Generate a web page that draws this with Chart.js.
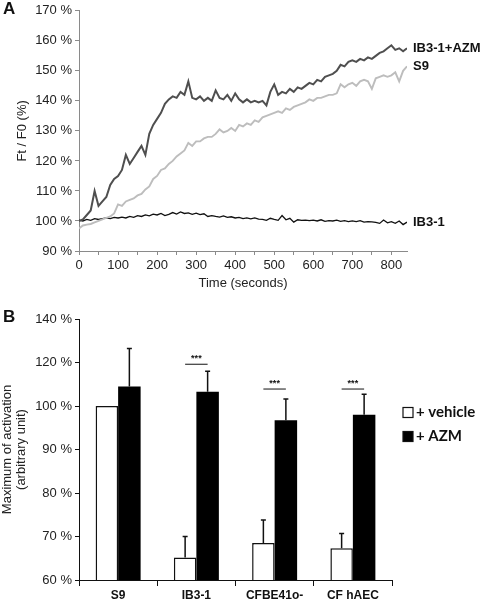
<!DOCTYPE html>
<html>
<head>
<meta charset="utf-8">
<script src="https://cdn.jsdelivr.net/npm/chart.js@4.4.1/dist/chart.umd.min.js"></script>
<style>
  body { margin: 0; background: #fff; }
  .wrap { position: relative; width: 482px; height: 602px; overflow: hidden; }
  .panel-letter { position: absolute; font: bold 17px Arial, "Liberation Sans", sans-serif; color: #111; }
  #chartA { position: absolute; left: 0; top: 0; }
  #chartB { position: absolute; left: 0; top: 292px; }
</style>
</head>
<body>
<div class="wrap">
  <canvas id="chartA" width="482" height="292"></canvas>
  <canvas id="chartB" width="482" height="310"></canvas>
  <div class="panel-letter" style="left:3px;top:-1px">A</div>
  <div class="panel-letter" style="left:3px;top:307px">B</div>
</div>
<script>
// ---- panel A : Ft/F0 over time ----
const times = [0, 10, 20, 30, 40, 50, 60, 70, 80, 90, 100, 110, 120, 130, 140, 150, 160, 170, 180, 190,
  200, 210, 220, 230, 240, 250, 260, 270, 280, 290, 300, 310, 320, 330, 340, 350, 360, 370, 380, 390,
  400, 410, 420, 430, 440, 450, 460, 470, 480, 490, 500, 510, 520, 530, 540, 550, 560, 570, 580, 590,
  600, 610, 620, 630, 640, 650, 660, 670, 680, 690, 700, 710, 720, 730, 740, 750, 760, 770, 780, 790,
  800, 810, 820, 830, 840];

const azmValues = [100, 100.5, 102, 103.5, 110, 105, 106.5, 108, 112, 114, 115, 117, 122, 119, 121, 123, 125, 122, 129, 132,
  134, 136, 139, 140.5, 141.5, 141, 143, 142, 146.5, 141, 140.5, 141.5, 140, 141, 140, 143.5, 141, 140.5, 142, 140,
  142.5, 140.5, 139.5, 140.5, 139.5, 140, 139.5, 140, 138.5, 143, 145.5, 142, 143, 142.5, 144, 143, 144.5, 144, 145, 146,
  145.5, 147, 146.5, 148, 148.5, 149, 150, 152, 151.5, 153, 153.5, 153, 154, 153.5, 154.5, 154, 155, 156, 156.5, 157.5,
  158.5, 157, 157.5, 156.5, 157.5];

const s9Values = [97.5, 98.5, 98.8, 99, 99.5, 100, 100.5, 101, 101.5, 102.5, 105.5, 105, 106.5, 107, 107.5, 108.5, 109, 110.5, 111.5, 114,
  115, 117, 117.5, 119, 120, 121.5, 122.5, 123.5, 126, 125, 126.5, 126.5, 127.5, 128, 128, 129, 130.5, 129.5, 130, 131,
  130, 132, 131.5, 132.5, 132, 133.5, 133, 134.5, 135, 135.5, 136, 136.5, 136, 137.5, 137, 138, 138.5, 139, 139.5, 140.5,
  140, 141, 141, 141.5, 142, 142, 142.5, 145.5, 144.5, 145.5, 146, 145, 146.5, 147, 146.5, 144, 147.5, 148, 148.5, 148,
  148.5, 149.5, 146.5, 150, 151.5];

const ib3Values = [100.3, 100, 100.5, 100.2, 100.8, 100.5, 100.8, 101, 100.8, 101.2, 101, 101.3, 101, 101.5, 101.2, 101.8, 101.5, 102, 101.7, 102.3,
  102, 102.5, 101.8, 102.2, 102.8, 102.3, 103, 102.5, 102.7, 102.2, 102.6, 102.1, 102.4, 101.5, 101.8, 101.5, 101.3, 101.7, 101.2, 101.4,
  101, 101.2, 100.8, 101, 100.7, 101, 100.6, 100.5, 100.2, 100.9, 100.5, 100.2, 101.8, 100.4, 100.9, 99.6, 100.4, 100.2, 100.3, 100.1,
  100.3, 100, 100.4, 99.9, 100.1, 100, 100.3, 99.9, 100.1, 99.8, 100, 99.8, 100.1, 99.6, 99.8, 99.7, 99.5, 99.2, 100.3, 99.4,
  99.8, 99.2, 100, 98.8, 99.6];

const lineLabels = ["IB3-1+AZM", "S9", "IB3-1"];
const lineColors = ["#4f4f4f", "#bdbdbd", "#111111"];
const lineWidths = [2, 1.9, 1.3];
const xTicksA = [0, 50, 100, 150, 200, 250, 300, 350, 400, 450, 500, 550, 600, 650, 700, 750, 800];

// ---- panel B : maximum of activation ----
const cellLines = ["S9", "IB3-1", "CFBE41o-", "CF hAEC"];
const vehicleMax = [100, 65.2, 68.5, 67.3];
const vehicleErr = [0, 4.8, 5.3, 3.4];
const azmMax = [104.5, 103.3, 96.7, 98.0];
const azmErr = [8.7, 4.7, 4.9, 4.7];
const sigLevel = [null, 109.6, 103.9, 103.9];
const sigText = ["", "***", "***", "***"];
const yTickLabelsB = ["60 %", "70 %", "80 %", "90 %", "100 %", "120 %", "140 %"];

const FONT = 'Arial, "Liberation Sans", sans-serif';
Chart.defaults.font.family = FONT;
Chart.defaults.color = "#222";

const lineEndLabels = {
  id: "lineEndLabels",
  afterDatasetsDraw(chart) {
    const { ctx, chartArea } = chart;
    ctx.save();
    ctx.font = "bold 13px " + FONT;
    ctx.fillStyle = "#111";
    ctx.textAlign = "left";
    ctx.textBaseline = "middle";
    chart.data.datasets.forEach((ds, i) => {
      const pts = chart.getDatasetMeta(i).data;
      const last = pts[pts.length - 1];
      if (!last) return;
      ctx.fillText(ds.label, chartArea.right + 6, last.y);
    });
    ctx.restore();
  },
};

new Chart(document.getElementById("chartA"), {
  type: "line",
  data: {
    datasets: [azmValues, s9Values, ib3Values].map((vals, i) => ({
      label: lineLabels[i],
      data: times.map((t, k) => ({ x: t, y: vals[k] })),
      borderColor: lineColors[i],
      borderWidth: lineWidths[i],
      pointRadius: 0,
      tension: 0,
    })),
  },
  plugins: [lineEndLabels],
  options: {
    responsive: false,
    animation: false,
    devicePixelRatio: 1,
    layout: { padding: { left: 0, top: 10, right: 75, bottom: 0 } },
    plugins: { legend: { display: false }, tooltip: { enabled: false } },
    scales: {
      x: {
        type: "linear",
        min: 0,
        max: 840,
        afterFit: (scale) => { scale.height = 41; },
        afterBuildTicks: (scale) => { scale.ticks = xTicksA.map((v) => ({ value: v })); },
        grid: { drawOnChartArea: false, tickLength: 4, color: "#8a8a8a" },
        border: { color: "#8a8a8a", width: 1 },
        ticks: {
          autoSkip: false,
          maxRotation: 0,
          padding: 3,
          font: { size: 13 },
          color: "#222",
          callback: (v) => (v % 100 === 0 ? String(v) : ""),
        },
        title: { display: true, text: "Time (seconds)", font: { size: 13 }, color: "#222", padding: { top: 0, bottom: 1 } },
      },
      y: {
        min: 90,
        max: 170,
        afterFit: (scale) => { scale.width = 79; },
        grid: { drawOnChartArea: false, tickLength: 4, color: "#8a8a8a" },
        border: { color: "#8a8a8a", width: 1 },
        ticks: { stepSize: 10, padding: 3, font: { size: 13 }, color: "#222", callback: (v) => v + " %" },
        title: { display: true, text: "Ft / F0 (%)", font: { size: 13 }, color: "#222", padding: { top: 15, bottom: 0 } },
      },
    },
  },
});

const errorBars = {
  id: "errorBars",
  afterDatasetsDraw(chart) {
    const { ctx } = chart;
    const yScale = chart.scales.y;
    ctx.save();
    ctx.strokeStyle = "#111";
    ctx.lineWidth = 1.5;
    chart.data.datasets.forEach((ds, i) => {
      const meta = chart.getDatasetMeta(i);
      meta.data.forEach((bar, j) => {
        const err = ds.errors[j];
        if (!err) return;
        const yTop = yScale.getPixelForValue(ds.data[j] + err);
        ctx.beginPath();
        ctx.moveTo(bar.x, bar.y);
        ctx.lineTo(bar.x, yTop);
        ctx.moveTo(bar.x - 2.5, yTop);
        ctx.lineTo(bar.x + 2.5, yTop);
        ctx.stroke();
      });
    });
    // significance lines between vehicle and AZM bars
    const m0 = chart.getDatasetMeta(0);
    const m1 = chart.getDatasetMeta(1);
    ctx.fillStyle = "#111";
    ctx.font = "bold 9px " + FONT;
    ctx.textAlign = "center";
    ctx.textBaseline = "bottom";
    sigLevel.forEach((lvl, j) => {
      if (lvl == null) return;
      const y = yScale.getPixelForValue(lvl);
      const x0 = m0.data[j].x;
      const x1 = m1.data[j].x;
      ctx.lineWidth = 1;
      ctx.beginPath();
      ctx.moveTo(x0, y);
      ctx.lineTo(x1, y);
      ctx.stroke();
      ctx.fillText(sigText[j], (x0 + x1) / 2, y - 1);
    });
    ctx.restore();
  },
};

const sideLegend = {
  id: "sideLegend",
  afterDraw(chart) {
    const { ctx, chartArea } = chart;
    const x = chartArea.right + 11;
    const rows = [120.5, 144.5];
    ctx.save();
    ctx.font = "bold 15px Lato, " + FONT;
    ctx.textAlign = "left";
    ctx.textBaseline = "middle";
    chart.data.datasets.forEach((ds, i) => {
      const y = rows[i];
      ctx.fillStyle = ds.backgroundColor;
      ctx.fillRect(x, y - 5, 10, 10);
      ctx.strokeStyle = "#111";
      ctx.lineWidth = 1.2;
      ctx.strokeRect(x, y - 5, 10, 10);
      ctx.fillStyle = "#111";
      ctx.fillText(ds.label, x + 13, y);
    });
    ctx.restore();
  },
};

new Chart(document.getElementById("chartB"), {
  type: "bar",
  data: {
    labels: cellLines,
    datasets: [
      { label: "+ vehicle", data: vehicleMax, errors: vehicleErr, backgroundColor: "#ffffff", borderColor: "#111", borderWidth: 1.5, borderSkipped: false },
      { label: "+ AZM", data: azmMax, errors: azmErr, backgroundColor: "#000000", borderColor: "#000", borderWidth: 0 },
    ],
  },
  plugins: [errorBars, sideLegend],
  options: {
    responsive: false,
    animation: false,
    devicePixelRatio: 1,
    layout: { padding: { left: 0, top: 27, right: 90, bottom: 0 } },
    plugins: { legend: { display: false }, tooltip: { enabled: false } },
    datasets: { bar: { categoryPercentage: 0.575, barPercentage: 1 } },
    scales: {
      x: {
        afterFit: (scale) => { scale.height = 22; },
        grid: { drawOnChartArea: false, offset: true, tickLength: 6, color: "#111" },
        border: { color: "#111", width: 1 },
        ticks: { padding: 2, font: { size: 12, weight: "bold" }, color: "#111" },
      },
      y: {
        min: 60,
        max: 120,
        afterFit: (scale) => { scale.width = 79; },
        grid: { drawOnChartArea: false, tickLength: 4, color: "#111" },
        border: { color: "#111", width: 1 },
        ticks: {
          stepSize: 10,
          padding: 3,
          font: { size: 13 },
          color: "#222",
          callback: (v) => yTickLabelsB[Math.round((v - 60) / 10)],
        },
        title: {
          display: true,
          text: ["Maximum of activation", "(arbitrary unit)"],
          font: { size: 13, lineHeight: 1.1 },
          color: "#222",
          padding: { top: 0, bottom: 0 },
        },
      },
    },
  },
});
</script>
</body>
</html>
